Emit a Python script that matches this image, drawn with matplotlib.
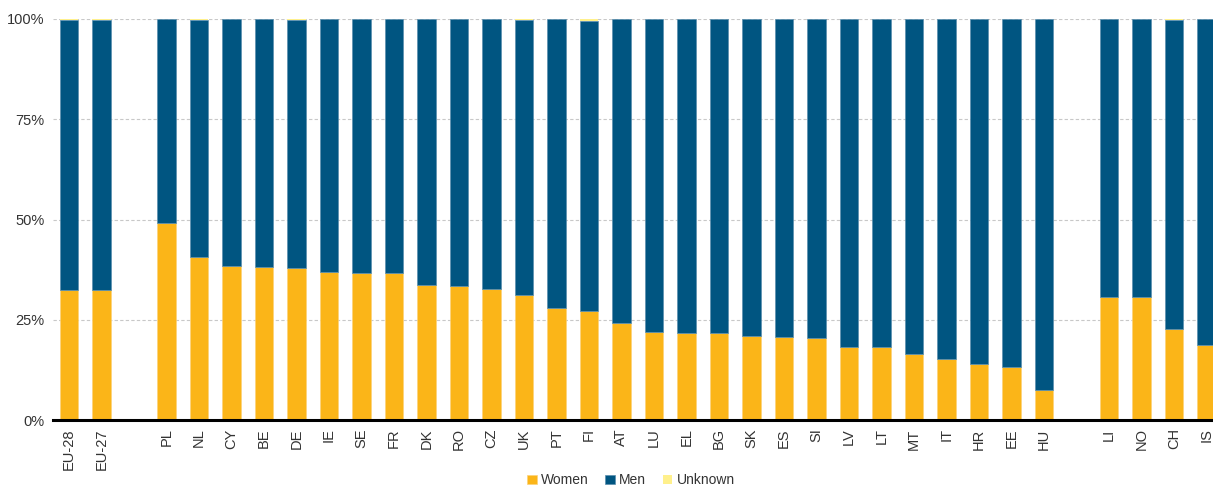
import numpy as np
import matplotlib.pyplot as plt
from matplotlib import font_manager

# categories ('' = spacer between groups)
labels = ['EU-28', 'EU-27', '', 'PL', 'NL', 'CY', 'BE', 'DE', 'IE', 'SE', 'FR', 'DK', 'RO', 'CZ', 'UK',
          'PT', 'FI', 'AT', 'LU', 'EL', 'BG', 'SK', 'ES', 'SI', 'LV', 'LT', 'MT', 'IT', 'HR', 'EE',
          'HU', '', 'LI', 'NO', 'CH', 'IS']
women = [32.4, 32.4, 0, 49.1, 40.6, 38.4, 38.2, 37.9, 36.9, 36.7, 36.7, 33.7, 33.3, 32.7, 31.1,
         27.9, 27.2, 24.3, 21.9, 21.7, 21.7, 21.0, 20.7, 20.4, 18.1, 18.1, 16.5, 15.2, 13.9, 13.2,
         7.5, 0, 30.7, 30.7, 22.6, 18.7]
unknown = [0.3, 0.3, 0, 0, 0.3, 0, 0, 0.3, 0, 0, 0, 0, 0, 0, 0.3,
           0, 0.5, 0, 0, 0, 0, 0, 0, 0, 0, 0, 0, 0, 0, 0,
           0, 0, 0, 0, 0.3, 0]
men = [0 if l == '' else 100 - w - u for l, w, u in zip(labels, women, unknown)]

col_w = '#FBB518'
col_m = '#005581'
col_u = '#FFF08C'

fams = [f.name for f in font_manager.fontManager.ttflist]
if 'Liberation Sans Narrow' in fams:
    plt.rcParams['font.family'] = ['Liberation Sans Narrow', 'DejaVu Sans']
else:
    plt.rcParams['font.family'] = ['Liberation Sans', 'DejaVu Sans']

fig = plt.figure(figsize=(12.13, 4.91), dpi=100)
ax = fig.add_axes([53 / 1213, 71 / 491, 1 - 53 / 1213, 401 / 491])

x = np.arange(len(labels))
women = np.array(women)
men = np.array(men)
unknown = np.array(unknown)
bw = 0.56
ax.bar(x, women, width=bw, color=col_w, edgecolor='#FCD27A', linewidth=0.5, label='Women', zorder=3)
ax.bar(x, men, width=bw, bottom=women, color=col_m, edgecolor='#5A8FAE', linewidth=0.5, label='Men', zorder=3)
ax.bar(x, unknown, width=bw, bottom=women + men, color=col_u, linewidth=0, label='Unknown', zorder=3)

ax.set_xlim(-0.49, 35.2)
ax.set_ylim(0, 100)
ax.set_yticks([0, 25, 50, 75, 100])
ax.set_yticklabels(['0%', '25%', '50%', '75%', '100%'])
ax.set_xticks(x)
ax.set_xticklabels(labels, rotation=90)
ax.tick_params(axis='both', length=0, labelsize=10.5, colors='#333333', pad=6)
ax.yaxis.grid(True, linestyle=(0, (3, 2)), color='#C8C8C8', linewidth=0.8, zorder=0)
for s in ['top', 'right', 'left']:
    ax.spines[s].set_visible(False)
ax.spines['bottom'].set_linewidth(2.2)
ax.spines['bottom'].set_color('black')
ax.spines['bottom'].set_zorder(4)

fig.legend(loc='lower center', bbox_to_anchor=(0.52, -0.018), ncol=3, frameon=False,
           fontsize=10, handlelength=0.7, handleheight=0.7, handletextpad=0.3, columnspacing=1.2,
           labelcolor='#333333')

fig.savefig('out.png', dpi=100)
